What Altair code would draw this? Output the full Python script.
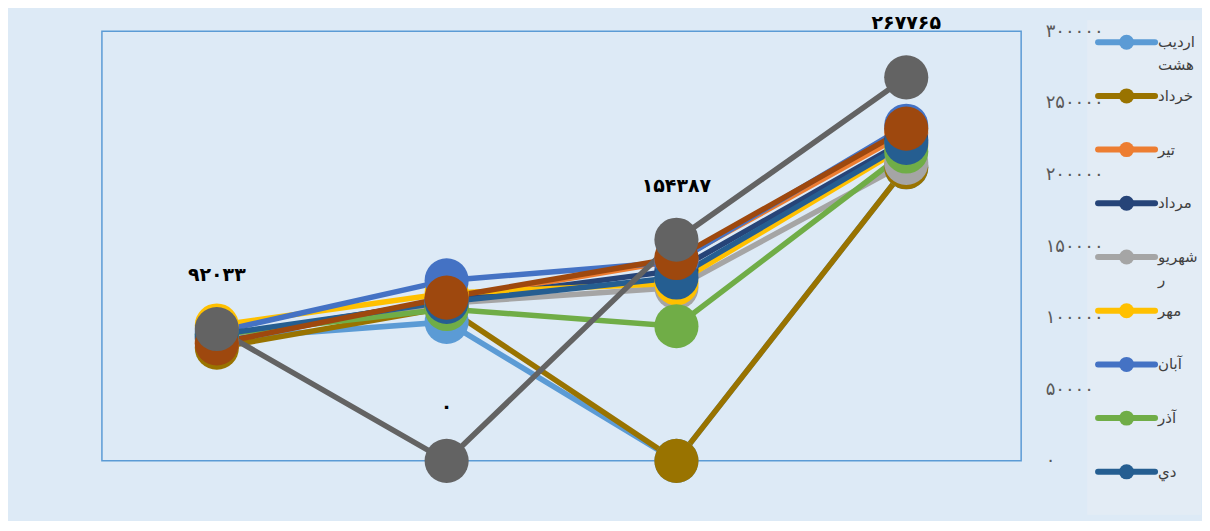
import altair as alt
import pandas as pd

periods = ["دوره ۱", "دوره ۲", "دوره ۳", "دوره ۴"]
series = ["اردیبهشت", "خرداد", "تیر", "مرداد", "شهریور", "مهر",
          "آبان", "آذر", "دي", "بهمن", "اسفند"]
colors = ["#5b9bd5", "#997300", "#ed7d31", "#264478", "#a5a5a5", "#ffc000",
          "#4472c4", "#70ad47", "#255e91", "#9e480e", "#636363"]

ordibehesht = [85000, 97000, 0, 205000]
khordad = [79000, 107000, 0, 205000]
tir = [83000, 113000, 140000, 229000]
mordad = [86000, 112000, 133000, 224000]
shahrivar = [87000, 110000, 121000, 208000]
mehr = [94500, 117000, 124000, 220000]
aban = [90000, 126000, 139000, 234000]
azar = [88000, 106000, 94000, 216000]
dey = [88000, 111000, 128000, 222000]
bahman = [82000, 114000, 141600, 232000]
esfand = [92033, 0, 154387, 267765]

values = [ordibehesht, khordad, tir, mordad, shahrivar, mehr,
          aban, azar, dey, bahman, esfand]
y_ticks = [0, 50000, 100000, 150000, 200000, 250000, 300000]
legend_shown = series[:9]
# legend labels wrapped as in the original
legend_text = ["اردیب\nهشت", "خرداد", "تیر", "مرداد", "شهریو\nر",
               "مهر", "آبان", "آذر", "دي"]
labelled_series = "اسفند"

fa = str.maketrans("0123456789", "۰۱۲۳۴۵۶۷۸۹")

rows = []
for si, (name, vals) in enumerate(zip(series, values)):
    for pi, (p, v) in enumerate(zip(periods, vals)):
        rows.append({"series": name, "order": si, "period": p, "pidx": pi,
                     "value": v, "label": str(v).translate(fa)})
df = pd.DataFrame(rows)
leg_df = pd.DataFrame({"series": legend_shown, "text": legend_text})

digit_expr = "datum.label"
for d, f in zip("0123456789", "۰۱۲۳۴۵۶۷۸۹"):
    digit_expr = f"replace({digit_expr}, /{d}/g, '{f}')"

x_enc = alt.X("period:O", sort=periods, axis=None,
              scale=alt.Scale(type="point", padding=0.5))
y_enc = alt.Y("value:Q", scale=alt.Scale(domain=[0, 300000], nice=False),
              axis=alt.Axis(orient="right", values=y_ticks, format="d",
                            labelExpr=digit_expr, domain=False, ticks=False,
                            grid=False, labelPadding=24, labelColor="#595959",
                            labelFontSize=18, labelFont="DejaVu Sans",
                            title=None, zindex=1))
color_scale = alt.Scale(domain=series, range=colors)

base = alt.Chart(df)

# light panel behind the legend (drawn under the axis labels)
legend_panel = alt.Chart(pd.DataFrame({"k": [0]})).mark_rect(
    color="#e3ecf5").encode(
    x=alt.value(986), x2=alt.value(1100), y=alt.value(-11), y2=alt.value(484),
)

lines = base.mark_line(strokeWidth=5.5).encode(
    x=x_enc, y=y_enc,
    stroke=alt.Stroke("series:N", scale=color_scale, legend=None),
    detail="series:N",
    order=alt.Order("pidx:Q"),
)

points = base.mark_circle(size=1950, opacity=1).encode(
    x=x_enc, y=y_enc,
    color=alt.Color("series:N", scale=color_scale, legend=None),
    order=alt.Order("order:Q"),
)

texts = base.transform_filter(
    alt.datum.series == labelled_series
).mark_text(dy=-54, fontSize=19, fontWeight="bold", color="#000000",
            font="DejaVu Sans").encode(
    x=x_enc, y=y_enc, text="label:N",
)

main = alt.layer(legend_panel, lines, points, texts).properties(
    width=920, height=430,
    view=alt.ViewBackground(stroke="#5b9bd5", strokeWidth=1.5,
                            fill="#ddeaf6"),
)

leg_y = alt.Y("series:N", sort=legend_shown, axis=None,
              scale=alt.Scale(type="point", domain=legend_shown,
                              range=[11, 441], padding=0))
leg_color = alt.Color("series:N", scale=color_scale, legend=None)
leg_base = alt.Chart(leg_df)

leg_lines = leg_base.mark_rule(strokeWidth=6, strokeCap="round").encode(
    x=alt.value(11), x2=alt.value(68), y=leg_y, color=leg_color,
)
leg_dots = leg_base.mark_circle(size=225, opacity=1).encode(
    x=alt.value(39.5), y=leg_y, color=leg_color,
)
leg_labels = leg_base.mark_text(
    align="left", baseline="middle", fontSize=15, font="DejaVu Sans",
    color="#404040", lineBreak="\n", lineHeight=23,
).encode(
    x=alt.value(71), y=leg_y, text="text:N",
)

legend = alt.layer(leg_lines, leg_dots, leg_labels).properties(
    width=112, height=484,
    view=alt.ViewBackground(fill="transparent", strokeWidth=0),
)

chart = alt.hconcat(main, legend, spacing=66, bounds="flush").properties(
    padding={"left": 93, "top": 5, "right": 0, "bottom": 5},
    background="#ddeaf6",
)

chart.save("out.html", embed_options={"renderer": "svg", "actions": False})
